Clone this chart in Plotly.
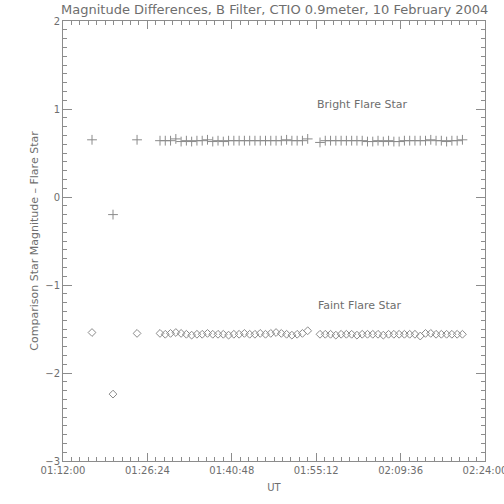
import plotly.graph_objects as go

DATE = "2004-02-10 "

# Observation times (UT)
times = [
    "01:16:57", "01:20:32", "01:24:38",
    "01:28:33", "01:29:27", "01:30:21", "01:31:15", "01:32:09", "01:33:03",
    "01:33:57", "01:34:51", "01:35:45", "01:36:39", "01:37:33", "01:38:27",
    "01:39:21", "01:40:15", "01:41:09", "01:42:03", "01:42:57", "01:43:51",
    "01:44:45", "01:45:39", "01:46:33", "01:47:27", "01:48:21", "01:49:15",
    "01:50:09", "01:51:03", "01:51:57", "01:52:51", "01:53:45",
    "01:55:51", "01:56:45", "01:57:39", "01:58:33", "01:59:27", "02:00:21",
    "02:01:15", "02:02:09", "02:03:03", "02:03:57", "02:04:51", "02:05:45",
    "02:06:39", "02:07:33", "02:08:27", "02:09:21", "02:10:15", "02:11:09",
    "02:12:03", "02:12:57", "02:13:51", "02:14:45", "02:15:39", "02:16:33",
    "02:17:27", "02:18:21", "02:19:15", "02:20:09",
]

bright = [
    0.65, -0.20, 0.65,
    0.64, 0.64, 0.64, 0.66, 0.63, 0.64, 0.63, 0.64, 0.64, 0.65,
    0.63, 0.64, 0.63, 0.64, 0.64, 0.64, 0.64, 0.64, 0.64, 0.64,
    0.64, 0.64, 0.64, 0.64, 0.65, 0.64, 0.64, 0.64, 0.66,
    0.62, 0.64, 0.64, 0.64, 0.64, 0.64, 0.64, 0.64, 0.64, 0.63,
    0.63, 0.64, 0.63, 0.64, 0.63, 0.63, 0.64, 0.64, 0.64, 0.64,
    0.64, 0.65, 0.64, 0.64, 0.63, 0.64, 0.64, 0.65,
]

faint = [
    -1.54, -2.24, -1.55,
    -1.55, -1.56, -1.55, -1.54, -1.55, -1.56, -1.57, -1.56, -1.56, -1.55,
    -1.56, -1.56, -1.56, -1.57, -1.56, -1.56, -1.55, -1.56, -1.56, -1.55,
    -1.56, -1.55, -1.54, -1.55, -1.56, -1.57, -1.56, -1.55, -1.52,
    -1.56, -1.56, -1.56, -1.57, -1.56, -1.56, -1.56, -1.57, -1.56, -1.56,
    -1.56, -1.56, -1.57, -1.56, -1.56, -1.56, -1.56, -1.56, -1.56, -1.58,
    -1.55, -1.55, -1.56, -1.56, -1.56, -1.56, -1.56, -1.56,
]

x_range = ["01:12:00", "02:24:00"]
y_range = [-3, 2]
title = "Magnitude Differences, B Filter, CTIO 0.9meter, 10 February 2004"
labels = [("Bright Flare Star", "01:55:00", 1.05), ("Faint Flare Star", "01:55:10", -1.23)]

FONT = "DejaVu Sans"
TXT = "#6e6e6e"
AX = "#8c8c8c"
MK = "#8a8a8a"

xs = [DATE + t for t in times]

fig = go.Figure()
fig.add_trace(go.Scatter(
    x=xs, y=bright, mode="markers", name="Bright",
    marker=dict(symbol="cross-thin-open", size=7, line=dict(color=MK, width=1), color=MK),
))
fig.add_trace(go.Scatter(
    x=xs, y=faint, mode="markers", name="Faint",
    marker=dict(symbol="diamond-open", size=6, line=dict(color=MK, width=1), color=MK),
))

for text, t, y in labels:
    fig.add_annotation(x=DATE + t, y=y, text=text, showarrow=False, xanchor="left",
                       yanchor="middle", font=dict(family=FONT, size=11, color=TXT))

fig.update_layout(
    width=504, height=504,
    margin=dict(l=63, r=19, t=21, b=43, autoexpand=False),
    paper_bgcolor="white", plot_bgcolor="white",
    showlegend=False,
    title=dict(text=title, x=0.545, xanchor="center", y=0.981, yanchor="middle",
               font=dict(family=FONT, size=13, color=TXT)),
    font=dict(family=FONT, size=10, color=TXT),
)

fig.update_xaxes(
    type="date", automargin=False, ticklabeloverflow="allow",
    range=[DATE + x_range[0], DATE + x_range[1]],
    tick0=DATE + x_range[0], dtick=864000, tickformat="%H:%M:%S",
    ticks="inside", ticklen=8, tickcolor=AX, tickwidth=1,
    minor=dict(dtick=86400, ticks="inside", ticklen=4, tickcolor=AX, tickwidth=1),
    showline=True, linecolor=AX, linewidth=1, mirror="allticks",
    showgrid=False, zeroline=False,
    title=dict(text="UT", font=dict(family=FONT, size=10, color=TXT), standoff=8),
    tickfont=dict(family=FONT, size=10, color=TXT),
)
fig.update_yaxes(
    automargin=False,
    range=y_range, tick0=-3, dtick=1,
    ticks="inside", ticklen=9, tickcolor=AX, tickwidth=1,
    minor=dict(dtick=0.1, ticks="inside", ticklen=4, tickcolor=AX, tickwidth=1),
    showline=True, linecolor=AX, linewidth=1, mirror="allticks",
    showgrid=False, zeroline=False,
    title=dict(text="Comparison Star Magnitude \u2013 Flare Star",
               font=dict(family=FONT, size=11, color=TXT), standoff=4),
    tickfont=dict(family=FONT, size=10, color=TXT),
)

fig.write_html("out.html", config={"displayModeBar": False},
               post_script="document.body.style.margin='0';document.body.style.overflow='hidden';")
